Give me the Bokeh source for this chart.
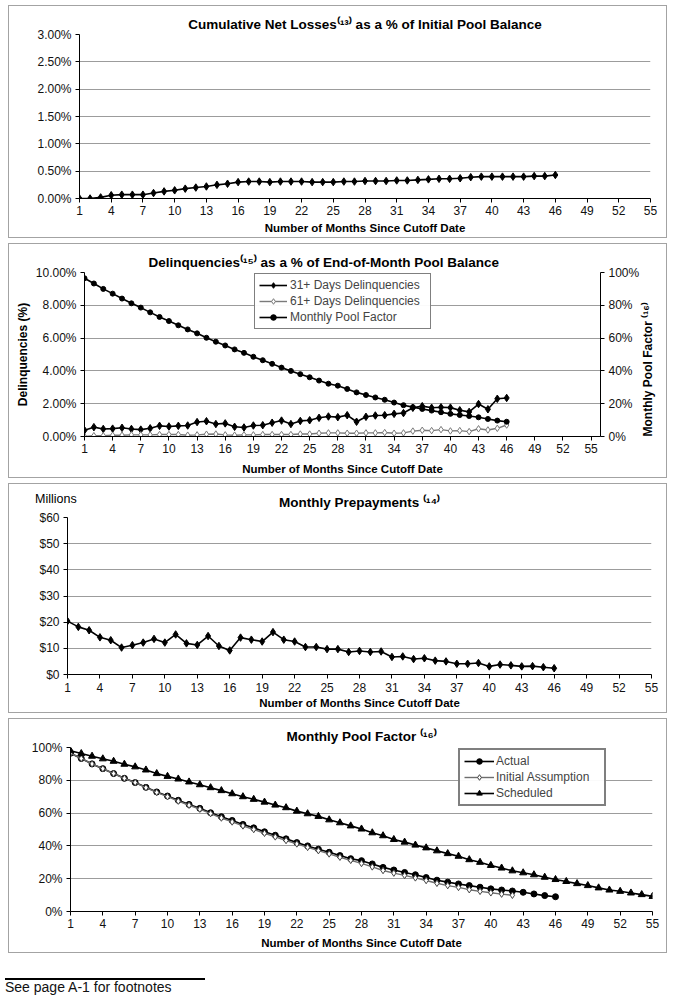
import numpy as np
from bokeh.plotting import figure
from bokeh.models import (Range1d, LinearAxis, FixedTicker, PrintfTickFormatter,
                          Legend, LegendItem, Div)
from bokeh.embed import file_html
from bokeh.resources import INLINE

# ---------------- data ----------------
months46 = list(range(1, 47))
months42 = list(range(1, 43))
months55 = list(range(1, 56))
x_ticks = list(range(1, 56, 3))

cum_net_losses = [0.00, 0.00, 0.02, 0.06, 0.07, 0.07, 0.07, 0.10, 0.13, 0.15,
                  0.18, 0.20, 0.22, 0.25, 0.27, 0.30, 0.31, 0.31, 0.30, 0.31,
                  0.31, 0.31, 0.30, 0.30, 0.30, 0.31, 0.31, 0.32, 0.32, 0.32,
                  0.33, 0.33, 0.34, 0.35, 0.36, 0.36, 0.37, 0.39, 0.40, 0.40,
                  0.40, 0.40, 0.40, 0.41, 0.41, 0.43]

del_31 = [0.38, 0.57, 0.46, 0.48, 0.53, 0.46, 0.42, 0.50, 0.65, 0.61,
          0.65, 0.67, 0.88, 0.93, 0.76, 0.80, 0.59, 0.55, 0.67, 0.69,
          0.84, 0.97, 0.76, 0.95, 0.99, 1.14, 1.22, 1.18, 1.30, 0.90,
          1.20, 1.28, 1.30, 1.38, 1.43, 1.75, 1.85, 1.75, 1.78, 1.76,
          1.60, 1.50, 1.98, 1.66, 2.30, 2.35]

del_61 = [0.00, 0.05, 0.05, 0.08, 0.08, 0.10, 0.10, 0.10, 0.12, 0.12,
          0.12, 0.08, 0.10, 0.14, 0.15, 0.10, 0.08, 0.10, 0.10, 0.12,
          0.12, 0.12, 0.12, 0.15, 0.15, 0.20, 0.22, 0.22, 0.20, 0.20,
          0.22, 0.22, 0.24, 0.20, 0.22, 0.33, 0.38, 0.36, 0.42, 0.34,
          0.36, 0.30, 0.47, 0.40, 0.50, 0.70]

pool_actual = [96.5, 93.3, 90.0, 87.1, 84.1, 81.2, 78.6, 75.7, 72.9, 70.4,
               67.8, 65.3, 62.9, 60.2, 57.8, 55.5, 53.1, 51.0, 48.6, 46.5,
               44.3, 42.0, 40.0, 38.0, 36.1, 34.1, 32.2, 31.0, 29.0, 26.9,
               25.3, 23.8, 22.4, 20.7, 19.1, 17.9, 16.8, 15.8, 14.8, 13.8,
               13.1, 12.5, 11.7, 10.7, 9.7, 9.0]

pool_initial = [96.5, 93.3, 90.0, 87.1, 84.1, 81.2, 78.6, 75.5, 72.6, 70.0,
                67.3, 64.8, 62.4, 59.7, 57.0, 54.6, 52.2, 50.0, 47.7, 45.5,
                43.3, 41.2, 39.1, 37.1, 35.1, 33.1, 31.2, 29.3, 27.2, 25.0,
                23.4, 22.0, 20.5, 18.9, 17.2, 15.8, 14.7, 13.3, 12.3, 11.4,
                10.6, 9.9]

pool_scheduled = [98.0, 96.3, 94.7, 93.1, 91.6, 89.8, 88.2, 86.3, 84.1, 82.4,
                  80.8, 79.0, 77.3, 75.5, 73.7, 71.8, 70.0, 68.4, 66.7, 64.9,
                  63.3, 61.2, 59.6, 58.0, 55.9, 54.1, 52.2, 50.3, 48.0, 46.2,
                  43.9, 42.3, 40.5, 38.8, 37.0, 35.3, 33.7, 31.6, 30.0, 28.1,
                  26.5, 24.8, 23.6, 22.4, 20.9, 19.5, 18.3, 17.0, 15.8, 14.4,
                  13.1, 12.3, 11.3, 10.3, 9.2]

prepayments = [20.4, 18.2, 16.9, 14.2, 13.1, 10.3, 11.2, 12.2, 13.6, 12.2,
               15.3, 11.9, 11.3, 14.7, 10.9, 9.2, 14.1, 13.3, 12.6, 16.2,
               13.3, 12.6, 10.5, 10.5, 9.7, 9.7, 8.6, 9.0, 8.6, 8.8,
               6.7, 6.9, 5.9, 6.2, 5.3, 5.0, 4.1, 4.1, 4.4, 3.1,
               3.8, 3.5, 3.1, 3.2, 2.8, 2.4]

# ---------------- styling helpers ----------------
FONT = "Liberation Sans"
W = 659
XLABEL = "Number of Months Since Cutoff Date"


def box_style(top):
    return {"border": "1.5px solid #a3a3a3", "margin-left": "8px",
            "margin-top": "%dpx" % top}


def style_axis(ax):
    ax.axis_line_color = "black"
    ax.axis_line_width = 1
    ax.major_tick_line_color = "black"
    ax.major_tick_out = 4
    ax.major_tick_in = 0
    ax.minor_tick_line_color = None
    ax.major_label_text_font = FONT
    ax.major_label_text_font_size = "12px"
    ax.major_label_text_color = "#111111"
    ax.major_label_standoff = 4
    ax.axis_label_text_font = FONT
    ax.axis_label_text_font_size = "12px"
    ax.axis_label_text_font_style = "bold"
    ax.axis_label_text_color = "black"


def base_fig(h, left, right, top, bottom, ymax, yticks, yfmt, title, title_standoff,
             margin_top, xlabel_standoff, xend=55, title_align="center", title_offset=0):
    p = figure(width=W, height=h, x_range=Range1d(1, xend), y_range=Range1d(0, ymax),
               output_backend="svg", toolbar_location=None,
               min_border_left=left, min_border_right=right,
               min_border_top=top, min_border_bottom=bottom)
    p.styles = box_style(margin_top)
    p.background_fill_color = "white"
    p.border_fill_color = "white"
    p.outline_line_color = None
    p.xgrid.visible = False
    p.ygrid.grid_line_color = "#9c9c9c"
    p.ygrid.grid_line_width = 1
    p.ygrid.ticker = FixedTicker(ticks=yticks)

    p.title.text = title
    p.title.align = title_align
    p.title.offset = title_offset
    p.title.text_font = FONT
    p.title.text_font_size = "13.5px"
    p.title.text_font_style = "bold"
    p.title.text_color = "black"
    p.title.standoff = title_standoff

    xa = p.xaxis[0]
    xa.ticker = FixedTicker(ticks=x_ticks)
    xa.axis_label = XLABEL
    ya = p.yaxis[0]
    ya.ticker = FixedTicker(ticks=yticks)
    ya.formatter = PrintfTickFormatter(format=yfmt)
    for ax in (xa, ya):
        style_axis(ax)
    xa.axis_label_text_font_size = "11.5px"
    xa.axis_label_standoff = xlabel_standoff
    xa.major_label_standoff = 3
    return p


def diamonds(p, x, y, color="black", fill="black", size=7.5, **kw):
    return p.scatter(x, y, marker="diamond", size=size,
                     line_color=color, fill_color=fill, line_width=1, **kw)


def style_legend(leg, glyph_w, label_w, border_w):
    leg.border_line_color = "black"
    leg.border_line_width = border_w
    leg.label_text_font = FONT
    leg.label_text_font_size = "12px"
    leg.glyph_width = glyph_w
    leg.glyph_height = 14
    leg.label_height = 14
    leg.label_width = label_w
    leg.label_standoff = 3
    leg.spacing = 2
    leg.padding = 4
    leg.margin = 0


# ---------------- panel 1 ----------------
p1 = base_fig(233, 70, 18, 28, 41, 3.0, [0, 0.5, 1.0, 1.5, 2.0, 2.5, 3.0], "%.2f%%",
              "Cumulative Net Losses\u207d\u00b9\u00b3\u207e as a % of Initial Pool Balance", 5,
              margin_top=5, xlabel_standoff=4)
p1.line(months46, cum_net_losses, line_color="black", line_width=1.6)
diamonds(p1, months46, cum_net_losses)

# ---------------- panel 2 ----------------
p2 = base_fig(235, 75, 68, 28, 43, 10.0, [0, 2, 4, 6, 8, 10], "%.2f%%",
              "Delinquencies\u207d\u00b9\u2075\u207e as a % of End-of-Month Pool Balance", 6,
              margin_top=5, xlabel_standoff=7, xend=56, title_align="left", title_offset=64)
p2.yaxis[0].axis_label = "Delinquencies (%)"
p2.yaxis[0].axis_label_standoff = 3
p2.extra_y_ranges = {"pf": Range1d(0, 100)}
ra = LinearAxis(y_range_name="pf", ticker=FixedTicker(ticks=[0, 20, 40, 60, 80, 100]),
                formatter=PrintfTickFormatter(format="%d%%"),
                axis_label="Monthly Pool Factor \u207d\u00b9\u2076\u207e")
style_axis(ra)
ra.axis_label_standoff = 6
try:
    ra.axis_label_orientation = float(np.pi / 2)
except Exception:
    pass
try:
    ra.axis_label_align = "start"
except Exception:
    pass
p2.add_layout(ra, "right")

l31 = p2.line(months46, del_31, line_color="black", line_width=1.6)
m31 = diamonds(p2, months46, del_31)
l61 = p2.line(months46, del_61, line_color="#7a7a7a", line_width=1.4)
m61 = diamonds(p2, months46, del_61, color="#7a7a7a", fill="white", size=6.5)
lpf = p2.line(months46, pool_actual, line_color="black", line_width=1.6, y_range_name="pf")
mpf = p2.scatter(months46, pool_actual, marker="circle", size=5, line_color="black",
                 fill_color="black", y_range_name="pf")
leg2 = Legend(items=[LegendItem(label="31+ Days Delinquencies", renderers=[l31, m31]),
                     LegendItem(label="61+ Days Delinquencies", renderers=[l61, m61]),
                     LegendItem(label="Monthly Pool Factor", renderers=[lpf, mpf])],
              location=(170, 107))
style_legend(leg2, 28, 136, 1.5)
p2.add_layout(leg2, "center")

# ---------------- panel 3 ----------------
p3 = base_fig(230, 58, 17, 33, 40, 60, [0, 10, 20, 30, 40, 50, 60], "$%d",
              "Monthly Prepayments \u207d\u00b9\u2074\u207e", 15, margin_top=5,
              xlabel_standoff=2)
p3.xaxis[0].major_label_standoff = 4
p3.line(months46, prepayments, line_color="black", line_width=1.6)
diamonds(p3, months46, prepayments)

# ---------------- panel 4 ----------------
p4 = base_fig(235, 61, 16, 28, 43, 100, [0, 20, 40, 60, 80, 100], "%d%%",
              "Monthly Pool Factor \u207d\u00b9\u2076\u207e", 8, margin_top=5,
              xlabel_standoff=6)
la = p4.line(months46, pool_actual, line_color="black", line_width=1.6)
ma = p4.scatter(months46, pool_actual, marker="circle", size=6, line_color="black",
                fill_color="black")
li = p4.line(months42, pool_initial, line_color="#6e6e6e", line_width=1.4)
mi = diamonds(p4, months42, pool_initial, color="#444444", fill="white", size=6.5)
ls = p4.line(months55, pool_scheduled, line_color="black", line_width=1.6)
ms = p4.scatter(months55, pool_scheduled, marker="triangle", size=7, line_color="black",
                fill_color="black")
leg4 = Legend(items=[LegendItem(label="Actual", renderers=[la, ma]),
                     LegendItem(label="Initial Assumption", renderers=[li, mi]),
                     LegendItem(label="Scheduled", renderers=[ls, ms])],
              location=(388, 105))
style_legend(leg4, 30, 104, 2)
leg4.label_standoff = 2
p4.add_layout(leg4, "center")

# ---------------- extra texts ----------------
millions = Div(text="Millions", width=60, height=16)
millions.styles = {"position": "absolute", "left": "30px", "top": "487px",
                   "font-family": "'Liberation Sans'", "font-size": "12.5px",
                   "color": "black", "line-height": "14px"}

foot = Div(text=('<div style="width:200px;border-top:2px solid black;'
                 'padding-top:0px;line-height:15px;font-family:\'Liberation Sans\';'
                 'font-size:14px;color:#111">See page A-1 for footnotes</div>'),
           width=300, height=30)
foot.styles = {"margin-left": "5px", "margin-top": "25px"}

open("out.html", "w").write(file_html([p1, p2, p3, p4, foot, millions], INLINE))
